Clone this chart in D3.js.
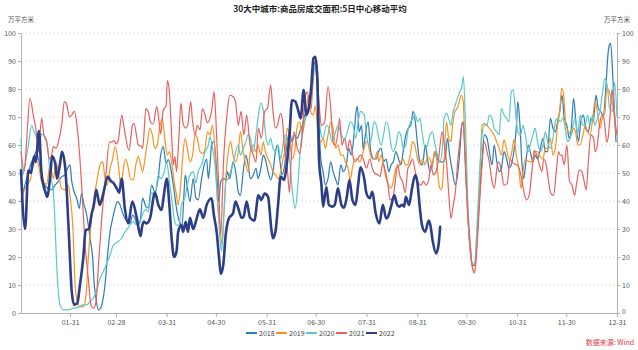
<!DOCTYPE html>
<html><head><meta charset="utf-8">
<script src="https://cdn.jsdelivr.net/npm/d3@7"></script>
<style>
body{margin:0;background:#fff;}
svg{font-family:"Noto Sans CJK SC","Noto Sans",sans-serif;}
</style></head>
<body><svg id="c" width="638" height="350"></svg>
<script>
const title = "30大中城市:商品房成交面积:5日中心移动平均";
const unitLabel = "万平方米";
const sourceLabel = "数据来源: Wind";
const years = ["2018","2019","2020","2021","2022"];
const tickDays = [30,58,89,119,150,180,211,242,272,303,333,364];
const tickLabels = ["01-31","02-28","03-31","04-30","05-31","06-30","07-31","08-31","09-30","10-31","11-30","12-31"];
const yTicks = [0,10,20,30,40,50,60,70,80,90,100];

const s2018 = [[0,39.8],[1.4,43.3],[3,47],[4.5,50],[5.9,53],[7.5,55],[9.2,57.6],[10.6,55],[12,51.7],[13.6,47],[15.3,45],[16.7,44.5],[18.7,44],[20.8,45.7],[22.8,47],[24.8,48.7],[26.9,49.3],[28.5,51.7],[29.9,52.9],[31,47],[32.4,43.3],[34,41],[35.6,37.4],[37,42.7],[38.5,38.6],[39.7,36.2],[41.1,31.4],[42.5,25.5],[43.8,19.5],[44.6,11.2],[45.8,5.2],[47.2,1.1],[48.6,1.7],[49.8,4],[51.3,10],[52.7,19.5],[54.4,29],[56,33.8],[57.4,37.4],[58.9,39.8],[60.5,38.6],[62.1,35.6],[63.5,33.8],[65,32.6],[66.6,32],[68.2,35],[69.6,33.8],[71,31.4],[72.7,32.6],[74.3,41],[76.3,38],[77.7,37.5],[79.8,45.7],[81.8,43],[83.9,48.7],[85.3,56.4],[86.9,59.4],[88.6,53.5],[90,54.8],[91.8,50.5],[93.2,45],[95.3,36.2],[96.8,32.6],[98.4,31.4],[99.4,41],[100.3,49.3],[101.8,44],[103.2,39.8],[105.2,48],[106.8,41],[108.2,40.4],[110.3,48],[111.9,52.9],[113.4,55],[114.4,48],[115.4,52.9],[116.4,60],[117.9,61.2],[119.5,50.5],[120.7,39.8],[122,47],[123.6,48],[125.2,47.5],[126,50.5],[127.5,48],[129.5,54],[131.1,50.5],[132.7,43.3],[134,42],[135.7,50.5],[137.3,56.4],[138.7,52.9],[140.1,48],[141.9,49.3],[143.5,51.7],[144.8,48],[146.5,51.7],[148,56.4],[149.2,55],[150.9,50.5],[152.5,47.5],[153.9,50.5],[155.4,57.6],[156.6,60],[158,55],[159.4,49.3],[161,52.9],[162.6,61.2],[164,64.7],[165.5,61.2],[167.1,63.6],[168.8,62.4],[170.2,64.7],[171.8,67],[173.3,70.7],[174.9,72],[176.3,75.5],[177.9,81.4],[179.4,89.8],[180.6,83.8],[181.8,69.5],[183.1,55],[184.5,50.5],[185.9,45.7],[187.5,48],[189.2,54],[190.6,50.5],[192,48],[193.6,45.7],[195.3,52.9],[196.9,50.5],[198.7,52.9],[200.1,58.8],[201.7,56.4],[203.4,63.6],[204.9,73],[205.5,73.7],[206.5,64.7],[208,67],[209,58],[210.3,63.6],[212,68.3],[213.6,57.6],[215.5,55],[217,55],[218.5,58],[220,58.8],[221.4,54],[223,55],[224.6,50.5],[226,52.9],[227.4,54],[229,57.6],[230.6,55],[232,52.9],[233.4,57.6],[235,63.6],[236.6,66],[238,67],[239.5,72],[240.8,68.3],[242.2,60],[243.6,54],[245.2,52.9],[246.9,60],[248.3,55],[249.7,50.5],[251.3,52.9],[252.9,57.6],[254.4,55],[255.8,54],[257.4,54],[259,55],[260.5,62.4],[261.8,56.4],[263.5,50.5],[265.2,45.7],[266.6,49.3],[268,57.6],[269.2,67],[270.1,68.3],[271.4,55],[272.8,36],[274.4,21.9],[275.8,17],[277.2,17],[278.5,26.7],[280,41],[281.6,55],[283,63.6],[284.6,62.4],[286,57.6],[287.7,52.9],[289,60],[290.6,54],[292,50.5],[293.4,51.7],[295,57.6],[296.6,55],[298,51.7],[299.4,52.9],[301,57.6],[302.6,67],[303.4,75.5],[304.6,68.3],[306,52.9],[307,48],[308.4,54],[309.7,60],[311,57.6],[312.7,54],[314,56.4],[315.5,55],[317.2,58.8],[318.8,62.4],[320.2,57.6],[321.6,57.6],[323.3,69.5],[324.9,66],[326.3,64.7],[327.7,68.3],[329,72],[330.4,77.8],[331.8,69.5],[333.4,67],[334.8,62.4],[336.1,66],[337.5,76.7],[338.9,68.3],[340.5,61.2],[341.9,68.3],[343.5,70.7],[344.9,66],[346.5,64.7],[348.1,69.5],[349.5,68.3],[351.2,77.8],[352.6,73],[354,72],[355.6,70.7],[357.3,81.4],[358.3,91],[359.3,95.7],[360.1,96.3],[361.4,85],[362.4,72],[363.4,61.2]];

const s2019 = [[0,41],[1.4,43],[3,45],[5.9,48],[7.5,53],[9.6,54],[11,52],[12.5,47],[14,46.5],[15.7,46],[17.7,53],[19.8,48],[21.4,54],[23.4,48],[24.8,44.5],[26.9,44],[28.9,45.7],[29.9,42],[31.6,31.4],[33,11],[34.4,4],[36,2.3],[38.1,2.3],[39.7,6.4],[41.1,19.5],[42.7,31.4],[44.6,41],[46.6,48],[48.3,52.9],[49.9,54],[51.3,48],[52.7,45.7],[54.4,51.7],[56,55],[57.4,59.4],[58.9,55.8],[59.9,50.5],[61,45],[62.3,50.5],[63.9,55],[65.3,52.4],[66.8,48],[68.6,47.5],[70.1,52.9],[71.6,56],[73,53],[74.3,50.5],[75.7,55],[77.2,61],[78.8,66],[80.2,63.6],[81.8,58.8],[83.2,60],[84.9,67],[86.3,69.5],[87.9,61.8],[89.4,56.4],[90.6,57.6],[92,54],[93.5,47],[95,42],[96,38.6],[97.5,45.7],[98.7,55],[100.2,62.4],[101.6,58.8],[103.2,54],[104.8,56.4],[106.3,63.6],[107.7,62.4],[109.3,57.6],[111,57],[112.4,58.8],[113.8,64.7],[115.4,63.6],[117,67],[118.5,57.6],[119.9,41],[121.5,31.4],[122.8,24.3],[124,36.2],[125.2,49.3],[126.6,57.6],[128,61.2],[129.5,56.4],[131.1,54],[132.7,57.6],[134,64.7],[135.7,57.6],[137.3,52.9],[138.7,50.5],[140.1,57.6],[141.9,60],[143.5,57.6],[144.8,60],[146.5,56.4],[148,61],[149.2,57.6],[150.9,55],[152.5,52.9],[153.9,50.5],[155.4,49.3],[157,48],[158.6,50.5],[160,55],[161.5,58.8],[162.6,66],[164,63],[165.5,55],[167.1,57.6],[168.8,67],[170.2,68.3],[171.6,63.6],[173.3,68.3],[174.3,71.9],[175.3,77.3],[176.9,71.9],[178.4,70.7],[179.8,74],[181.4,63.6],[183.1,61],[184.5,62.4],[185.9,58.8],[187.5,63.6],[189.2,68.3],[190.6,66],[192.2,58.8],[193.6,60],[195.3,56.4],[196.7,56.4],[198.1,54],[199.8,51.7],[201,47.5],[202.4,51.7],[203.8,55],[205.5,55],[206.9,54],[208.5,56.4],[210,60],[211.4,61.2],[213,57.6],[214.4,55],[216,55],[217.7,57.6],[218.5,54],[220,56.4],[221.4,52.9],[223,48],[224.6,45.7],[226,44.5],[227.4,47],[229,51.7],[230.6,52.3],[232,54],[233.4,55],[234.6,52.9],[236,52.9],[237.7,56.4],[239.1,61.2],[240.5,60],[242.2,55],[243.6,52.9],[245.2,55],[246.9,52.9],[248.3,55.8],[249.7,55],[251.3,52.9],[252.4,57.6],[253.8,55],[255,47],[256.4,44],[257.4,45.7],[258.4,55],[259.9,68.3],[261.2,62.4],[262.6,61.2],[263.6,67],[265,72],[266.2,73],[267.7,75.5],[268.9,77.8],[270.1,75.5],[271.4,52.9],[272.8,36],[274.4,21.9],[275.8,16],[277,14.8],[278.5,25.5],[280,43.3],[281.6,67],[283,67.7],[284.6,67],[286,66],[287.7,64.7],[289,63.6],[290.6,61],[292,58.8],[293.4,56.4],[295,61.8],[296.6,58.2],[298,55],[299.4,56.4],[301,61.8],[302.5,56.4],[304,51.7],[305.4,44.5],[306.6,50.5],[308,55],[309.5,54.4],[311,54],[312.7,54.4],[314,57.6],[315.5,57.6],[317.2,55.8],[318.8,55],[320.2,58.8],[321.6,58.8],[323.3,62.4],[324.9,56.4],[326.3,58.8],[327.7,67],[329,72],[330.2,80.2],[331.4,77.8],[332.8,67],[334.5,64.7],[335.9,63.6],[337.5,66],[338.7,64.7],[340.1,60],[341.5,60],[343.2,63.6],[344.6,67],[346,64.7],[347.5,63.6],[349.1,69],[350.5,75.5],[352,72],[353.6,66],[355,69.5],[356.7,71.9],[357.7,80.2],[359.3,79],[360.7,75.5],[362.2,73],[363.5,63.6]];

const s2020 = [[0,62.4],[1,49.3],[2.4,52.9],[4.5,60],[6.5,67],[8,64.7],[9.6,62.4],[11,60],[12.6,64],[14.7,63],[16.1,60],[17.3,52.9],[18.7,47],[19.8,43],[20.8,31.4],[21.8,17],[22.8,7.6],[23.8,2.9],[25.9,1.1],[28.9,1.1],[32,1.7],[35,2],[38,2.9],[40,2.9],[42,4],[44,5.2],[46,7.6],[48.3,12.4],[50.3,14.8],[52.3,17.7],[54.4,20.7],[56.4,24.3],[58,25],[59.5,25.6],[61.5,26.7],[63.5,29],[65,30.2],[66.6,31.4],[68.6,32.6],[70.7,31.4],[72.7,32.6],[74.7,36],[76.3,37],[77.7,36.2],[79.8,43],[81.8,42],[83.9,49.3],[85.3,48],[87.3,50],[89,54],[90.6,47],[92,41],[93.5,33.8],[95,31.4],[96.6,31.4],[98,38.6],[100,41],[101.6,45.7],[103.2,49.3],[105.2,50.5],[106.8,46.5],[108.2,50.5],[110.3,52.9],[112.4,57.6],[114.4,60],[115.4,63],[117,58.8],[118.5,52.9],[119.9,41],[121.5,26.7],[122.5,21.9],[124,36.2],[125.2,47],[126.6,48],[128,50.5],[129.5,52.9],[131.1,57.6],[132.7,60],[134,56.4],[135.7,58.8],[137.3,61.2],[138.7,63.6],[140.1,62.4],[141.9,57.6],[143.5,63.6],[145,70.7],[146.5,75],[148,72],[149.2,64.7],[150.9,60],[152.5,62.4],[153.9,58.8],[155.4,57.6],[157,60],[158.6,55],[160,60],[161.5,63.6],[163,60],[164.5,52],[166,42],[167.5,37.4],[169,45],[170.8,60],[172.6,67],[174.3,70.7],[176,73],[177.8,79],[179.8,88.6],[181,85],[182,72],[183.3,63.6],[184.5,62.4],[186.5,67],[188,66],[189.8,61.2],[191.6,63.6],[193.6,67],[195.7,63.6],[197.3,61.8],[199.3,64.7],[201.2,68.3],[202.8,67],[204.5,62.4],[205.9,68.3],[207.5,72],[209.6,70.7],[211,63.6],[212.6,60],[214,62.4],[215.6,68.3],[217,67],[218.5,62.4],[220,60],[221.4,63.6],[223,68.3],[224.6,66],[226,60],[227.4,57.6],[229,60],[230.6,64.7],[232,63.6],[233.4,58.8],[235,60],[236.6,66],[238,68.3],[239.5,69.5],[240.8,70.7],[242.2,68.3],[243.6,69.5],[245.2,63.6],[246.9,58.8],[248.3,60],[249.7,63.6],[251.3,64.7],[252.9,60],[254.4,56.4],[255.8,54],[257.4,58.8],[258.4,69.5],[259.9,71.3],[261.2,69.5],[262.6,67],[264,72],[265.2,74.3],[266.6,76.7],[268,79],[269.2,80.8],[270.2,84.4],[271.4,68.3],[272.8,41],[274.4,24.3],[275.8,17.1],[277.2,18.3],[278.5,31.4],[280,49.3],[281.6,63.6],[283,67],[284.6,67],[286,70.7],[287.7,69.5],[289,65.8],[290.6,64.7],[292,63.6],[293.4,73],[295,70.7],[296.6,69.5],[298,68.3],[299.4,79],[300.6,79.8],[302,72],[303.4,64.7],[305,63.6],[306.6,67],[308,63.6],[309.7,57.6],[311,60],[312.7,63.6],[314,66],[315.5,61.2],[317.2,57.6],[318.8,60],[320.2,64.7],[321.6,61.2],[323.3,58.8],[324.9,62.4],[326.3,68.3],[327.7,69.5],[329.3,68.3],[331,69.5],[332.4,66],[333.8,61.2],[335.4,62.4],[337.1,67],[338.5,69.5],[339.9,63.6],[341.5,70.7],[343.2,67],[344.6,67],[346,70.7],[347.5,67],[349.1,70.7],[350.5,67],[352,69.5],[353.6,72],[355.2,79],[356.6,83.8],[358,81.4],[359.6,73],[361.2,72],[362.5,82.5],[364,70]];

const s2021 = [[0,57.6],[2,50.7],[3.5,62],[5.5,76.7],[7.5,70.7],[9.6,63.6],[10.6,57.6],[12.6,69.5],[14,63.6],[15.7,61],[17.3,55],[18.7,56.4],[19.8,59.4],[21.4,58.8],[22.8,61],[24.8,67],[26.5,75.5],[28,74.3],[29.5,70],[31,70.7],[32.6,72],[34.4,66],[36,55],[37.5,41],[39,25.5],[41.1,12.4],[42.7,3],[44.2,1.7],[45.8,4],[47.3,17],[49.3,33.8],[51.8,49],[54,61],[55.4,61],[56.8,61.6],[58,60.4],[59.4,61.6],[61.5,70.7],[63,66],[66,58],[68,67],[69,67.7],[71.7,60],[73.5,59.4],[74.3,58.8],[76.3,73],[77.7,71.9],[79.2,68],[80.8,67.5],[82.9,73.7],[83.9,70.7],[85.3,64],[86.9,72.5],[88.6,74],[89.4,83],[90.6,79],[92,63.6],[93,53],[94,55.8],[95,50.5],[96.5,63.6],[97.7,75],[99,67.7],[100.6,66],[101.8,67],[103.6,75.5],[104.8,68.3],[106.3,63.6],[107.7,67],[109.3,65.4],[110.8,73],[112.4,70.7],[113.8,68],[115.4,69.5],[116.6,73],[117.9,79],[119,69.5],[120.5,49],[122,27.8],[123.6,52.9],[126,72],[127.5,77.8],[129.5,77.3],[131,75.5],[132.7,67],[134.4,72],[136.1,63.6],[137.8,70.7],[139.9,60],[141.9,56.4],[143.5,54],[145,66],[146.8,62.4],[148.8,72],[150.5,73],[152.5,81.4],[153.9,72],[155.4,66],[156.6,67],[158.6,71.3],[160,67],[161,58],[162.6,51.7],[164,43],[165,55],[166.7,64.7],[168.8,58.8],[170.2,57],[171.8,63.6],[173.3,76.7],[174.9,79],[176,75.5],[177.3,73],[178.8,89.8],[180.4,88.6],[181.8,76.7],[183.5,67],[185.5,68.3],[187.5,80.8],[189.2,73],[190.6,61],[192,59.8],[193.6,64.7],[194.6,69.5],[196,60],[197.7,62.4],[199.3,58],[200.8,61.8],[202.4,57],[203.8,54],[205.5,55],[207.3,56.4],[209,55],[211,51.7],[213,55],[214.6,51.7],[216,49.9],[218,49.3],[219.3,48.7],[221,53.5],[222.6,50.5],[224,46.3],[225.4,40.4],[227,41],[228.6,47],[230,53],[231.5,48.7],[233,47],[234.7,43],[236.3,51.7],[237.5,52.9],[239.1,55],[240.8,50.5],[242.3,47],[244.3,45.7],[245.7,47],[247.4,45.7],[248.8,47],[250.4,53],[251.8,49.3],[253.5,50.5],[255,55],[257.2,64.7],[258.6,60],[260,53],[261.2,43],[262.6,33.8],[264,38.6],[265.3,43.3],[266.7,54],[268,61.2],[269.8,68.3],[271.4,53],[272.8,36],[274.2,25.5],[275.8,16],[277,14.2],[278.5,24],[280,38.6],[281.6,53],[283,61.2],[284.6,57.6],[286,54],[287.7,47],[289,44.5],[291,53],[292,54],[293.4,50.5],[295,45.7],[297,46.3],[298.7,55],[300,53.8],[301.5,53.2],[303,52.9],[304.8,50.5],[306,47],[307.6,42],[309,40.4],[310.7,43.3],[312,50.5],[313.4,58],[315,56.4],[316.6,52.9],[318.2,50.5],[319.2,55],[320.8,52.9],[322.2,47],[323.6,42.7],[325.3,42],[326.9,50.5],[328.3,57.6],[329.3,56.4],[330.3,56.4],[331.8,52.9],[333.4,60],[335,47],[336.5,45.7],[338.1,42],[339.5,47],[341,51],[342.6,50.5],[343.6,48],[345.2,44],[346.6,55],[348,63.6],[349.7,62.4],[350.7,57.6],[352,60],[353.3,67],[354.7,70.7],[356,69.5],[357.8,61],[358.8,63.6],[359.8,70.7],[361,80],[362.3,70.7],[364,63.6]];

const s2022 = [[0,51],[2.5,30],[4.5,51],[6,50],[8,56],[9,54],[11,65],[12.5,50],[15,43],[16,41.5],[18,50],[19,56],[21,53],[22,48],[24,54],[25,57.6],[27,52],[29,31],[31,7.6],[32.4,3],[34.4,3.5],[36,10],[38,19.5],[39.5,29.6],[41.5,30],[43,35],[44.5,38.6],[46,44],[48,38.6],[50,42],[53,48.7],[55,47],[56.4,46.5],[58.5,44.5],[60,43],[61.5,48],[63.5,37],[65.5,32],[68,39.8],[70.7,34],[73,27.5],[74,31],[75,32.6],[76.7,32],[78.8,33.8],[81.8,43],[83.9,38.6],[85.9,36.8],[87,41],[89,48],[90.6,38.6],[92,26.7],[93.5,20],[95,22],[96,29],[98,31.4],[99,29],[100.6,32.6],[102,29],[103.2,34],[105.2,30],[107.3,33.8],[109.3,37],[111.3,34],[113.4,38.6],[116.4,41],[117.8,35],[119.5,29],[121,19.5],[122,14],[123.5,17],[125,27.8],[127,33.8],[129.5,35.6],[131,39.8],[132.7,37.4],[134.8,34],[136,34.5],[137.8,39.8],[139.9,34],[142.5,33],[145,42],[146.8,40.4],[148.8,42.7],[150.9,41.5],[152.9,30],[153.9,26.7],[155.4,29],[157,38.6],[158.6,48.7],[160.7,47.5],[162,51.7],[164,63.6],[165.5,76],[167.5,75.5],[169,73],[170.8,69.5],[172.6,79.6],[174.3,70.7],[175.7,73],[177.3,81],[178.6,91],[179.8,91.5],[181,83.8],[182,55],[183.5,45.7],[184.5,38],[186.5,45],[188,38.6],[190,38],[191.6,38.6],[193.6,44.5],[195.7,38.6],[197.3,37.6],[199,41.5],[200.6,47.5],[202.4,40.4],[204.3,38.6],[205.9,45.7],[207.3,52],[209.6,48],[211,42.7],[213,41],[214.6,43.3],[216.5,36],[218.9,32],[221,38.6],[223,33.8],[224.6,35],[226,38],[228,42],[229.5,39],[231,38],[232.7,38.6],[234,38],[235,41.5],[237,38.6],[238.8,44.5],[240.8,49.3],[242.3,45.7],[243.3,39.3],[244.9,31.4],[246.8,29],[249,33],[250,31.4],[251.5,25.5],[253.5,21.3],[255,24.3],[256,30.8]];

const seriesData = [s2018, s2019, s2020, s2021, s2022];
const seriesColors = ["#2b7bb9","#fa9322","#5cc8c8","#e8605f","#2c3e87"];
const seriesWidths = [1.2,1.2,1.2,1.2,2.6];

const svg = d3.select("#c");
const W = 638, H = 350;
const m = {left:21, right:21, top:33, bottom:37};
const x = d3.scaleLinear().domain([0,364]).range([m.left, W - m.right]);
const y = d3.scaleLinear().domain([0,100]).range([H - m.bottom, m.top]);

// gridlines
svg.append("g").selectAll("line").data(yTicks.filter(d=>d>0)).join("line")
  .attr("x1", x(0)).attr("x2", x(364))
  .attr("y1", d=>y(d)).attr("y2", d=>y(d))
  .attr("stroke", "#e2e2e2").attr("stroke-width", 1).attr("stroke-dasharray", "2,2");

function styleAxis(g){
  g.selectAll(".domain").attr("stroke","#b0b0b0");
  g.selectAll(".tick line").attr("stroke","#b0b0b0");
  g.selectAll(".tick text").attr("fill","#555").attr("font-size","7px")
    .attr("font-family","'Noto Sans CJK SC','Noto Sans',sans-serif");
}

const gl = svg.append("g").attr("transform",`translate(${x(0)},0)`)
  .call(d3.axisLeft(y).tickValues(yTicks).tickSize(3).tickSizeOuter(0).tickPadding(2));
styleAxis(gl);
const gr = svg.append("g").attr("transform",`translate(${x(364)},0)`)
  .call(d3.axisRight(y).tickValues(yTicks).tickSize(3).tickSizeOuter(0).tickPadding(2));
styleAxis(gr);
gr.selectAll(".tick text").filter(d=>d===0).attr("dy","0.1em");
const gx = svg.append("g").attr("transform",`translate(0,${y(0)})`)
  .call(d3.axisBottom(x).tickValues(tickDays).tickFormat((d,i)=>tickLabels[i]).tickSize(4).tickSizeOuter(0).tickPadding(3));
styleAxis(gx);

// lines
const line = d3.line().x(d=>x(d[0])).y(d=>y(d[1])).curve(d3.curveMonotoneX);
const lg = svg.append("g");
seriesData.forEach((s,i)=>{
  lg.append("path").datum(s).attr("d", line)
    .attr("fill","none").attr("stroke", seriesColors[i])
    .attr("stroke-width", seriesWidths[i]).attr("stroke-linejoin","round").attr("stroke-linecap","round");
});

// title
svg.append("text").attr("x", 320).attr("y", 12).attr("text-anchor","middle")
  .attr("font-size","8.5px").attr("font-weight","bold").attr("fill","#222").text(title);
// units
svg.append("text").attr("x", 8).attr("y", 22).attr("font-size","6.5px").attr("fill","#555").text(unitLabel);
svg.append("text").attr("x", 630).attr("y", 22).attr("text-anchor","end").attr("font-size","6.5px").attr("fill","#555").text(unitLabel);

// legend
const legStart = 246, legStep = 30;
const leg = svg.append("g");
years.forEach((yr,i)=>{
  const lx = legStart + i*legStep;
  leg.append("line").attr("x1", lx).attr("x2", lx+11).attr("y1", 333).attr("y2", 333)
    .attr("stroke", seriesColors[i]).attr("stroke-width", 2);
  leg.append("text").attr("x", lx+13).attr("y", 335.5).attr("font-size","7px").attr("fill","#444").text(yr);
});

// source
svg.append("text").attr("x", 634).attr("y", 345).attr("text-anchor","end")
  .attr("font-size","7px").attr("fill","#e03a3a").text(sourceLabel);
</script></body></html>
